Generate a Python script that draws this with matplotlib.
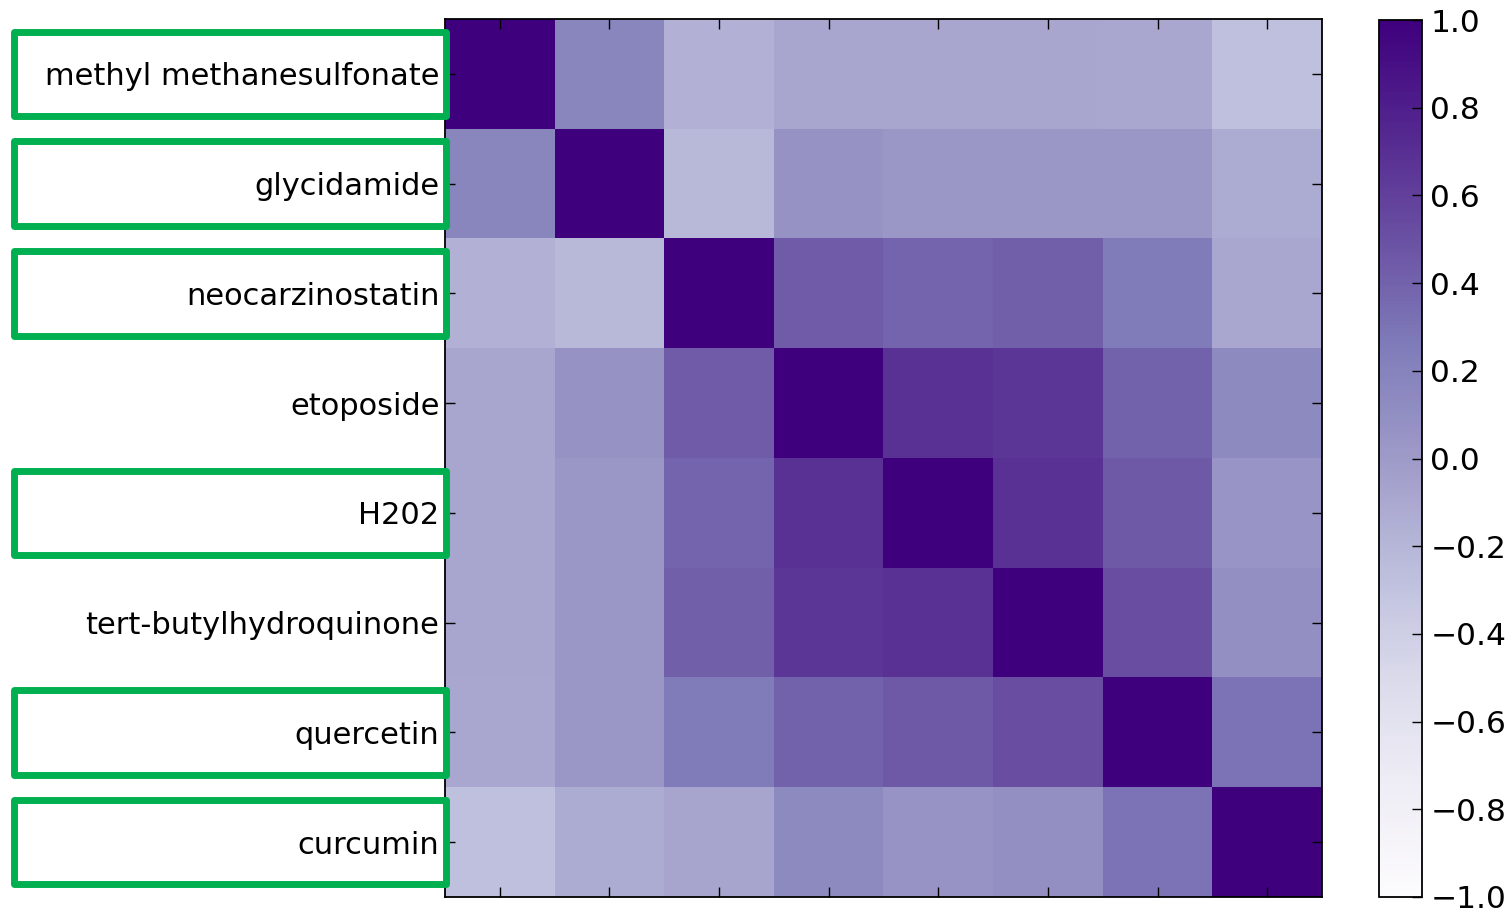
import numpy as np
import matplotlib
matplotlib.use("Agg")
import matplotlib.pyplot as plt
from matplotlib.patches import Rectangle
import matplotlib.transforms as mtransforms

labels = ["methyl methanesulfonate", "glycidamide", "neocarzinostatin", "etoposide",
          "H202", "tert-butylhydroquinone", "quercetin", "curcumin"]

corr = np.array([
    [1.00, 0.17, -0.17, -0.09, -0.09, -0.09, -0.10, -0.28],
    [0.17, 1.00, -0.22, 0.06, 0.03, 0.03, 0.03, -0.12],
    [-0.17, -0.22, 1.00, 0.44, 0.39, 0.42, 0.25, -0.10],
    [-0.09, 0.06, 0.44, 1.00, 0.68, 0.65, 0.40, 0.14],
    [-0.09, 0.03, 0.39, 0.68, 1.00, 0.68, 0.45, 0.04],
    [-0.09, 0.03, 0.42, 0.65, 0.68, 1.00, 0.52, 0.09],
    [-0.10, 0.03, 0.25, 0.40, 0.45, 0.52, 1.00, 0.30],
    [-0.28, -0.12, -0.08, 0.14, 0.05, 0.09, 0.30, 1.00],
])

highlighted = [0, 1, 2, 4, 6, 7]

fig = plt.figure(figsize=(15.1, 9.1), dpi=100)
ax = fig.add_axes([445/1510, 1-897/910, 877/1510, 878/910])
im = ax.imshow(corr, cmap="Purples", vmin=-1, vmax=1, interpolation="nearest", aspect="auto")

n = len(labels)
ax.set_xticks(np.arange(n))
ax.set_xticklabels([])
ax.set_yticks(np.arange(n))
ax.set_yticklabels(labels, fontsize=22)
ax.tick_params(direction="in", length=7, width=1, top=True, bottom=True, left=True, right=True, pad=4)
for s in ax.spines.values():
    s.set_linewidth(1.3)

cax = fig.add_axes([1379/1510, 1-897/910, 43/1510, 877/910])
cb = fig.colorbar(im, cax=cax, ticks=np.round(np.arange(-1.0, 1.01, 0.2), 1))
cb.ax.tick_params(direction="in", length=7, width=1, labelsize=22.5, pad=6)
cb.outline.set_linewidth(1.3)

trans = mtransforms.blended_transform_factory(fig.transFigure, ax.transData)
for i in highlighted:
    box = Rectangle((14/1510, i - 0.385), (446-14)/1510, 0.77,
                    transform=trans, fill=False, edgecolor="#00b050",
                    linewidth=5, joinstyle="round", clip_on=False)
    fig.add_artist(box)

fig.savefig("out.png", dpi=100)
